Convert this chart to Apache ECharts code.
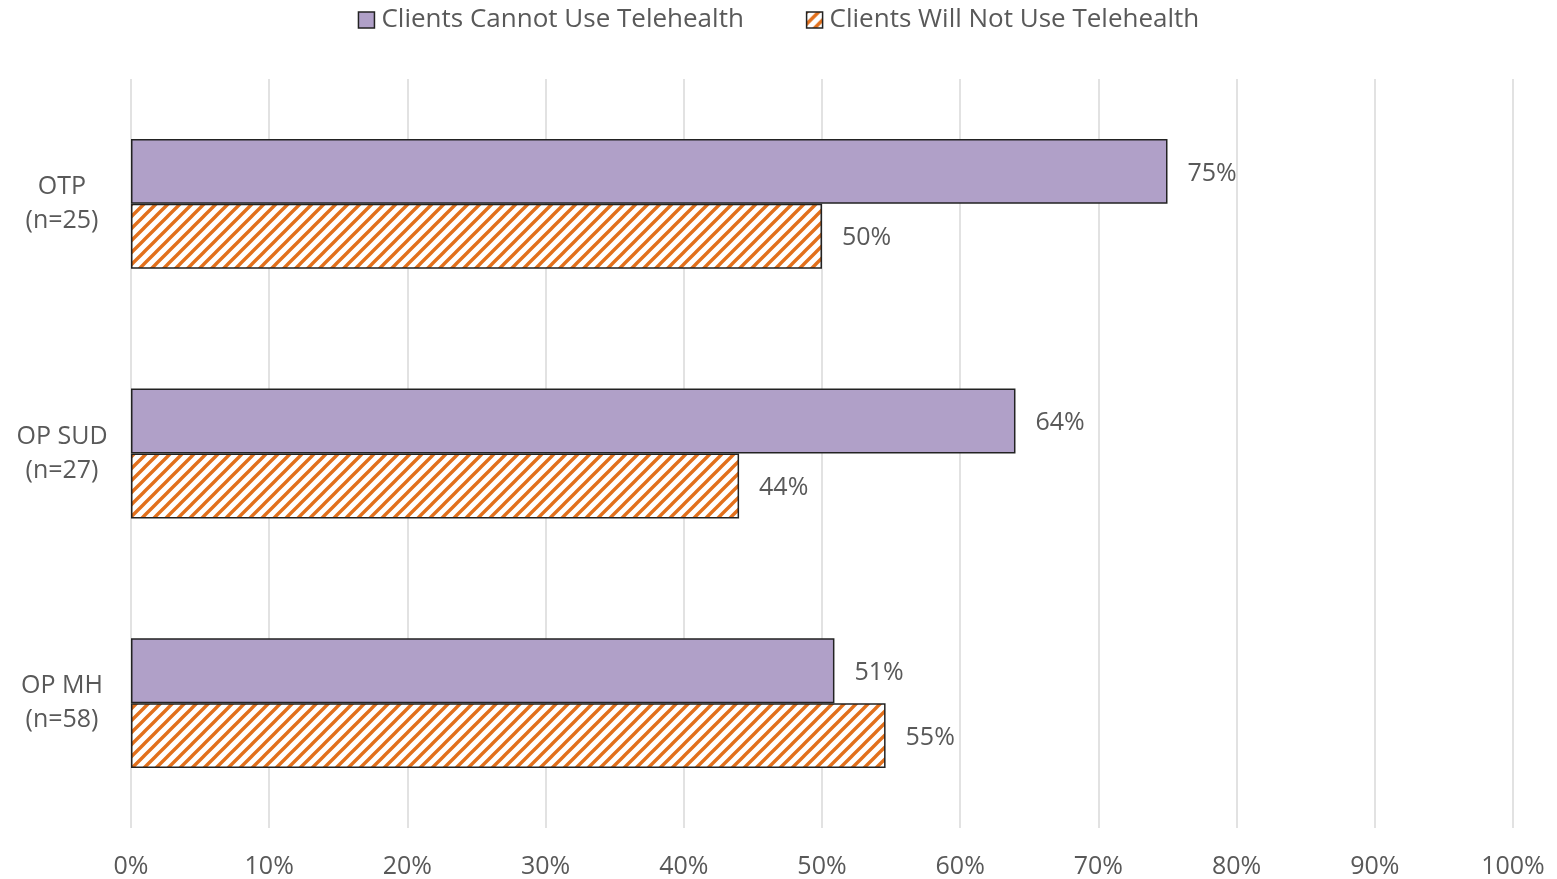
<!DOCTYPE html>
<html><head><meta charset="utf-8">
<script src="https://cdn.jsdelivr.net/npm/echarts@6/dist/echarts.min.js"></script>
<style>html,body{margin:0;padding:0;background:#fff}#c{width:1557px;height:879px}</style>
</head><body><div id="c"></div>
<script>
const categories = ['OTP\n(n=25)', 'OP SUD\n(n=27)', 'OP MH\n(n=58)'];
const seriesNames = ['Clients Cannot Use Telehealth', 'Clients Will Not Use Telehealth'];
const cannotUse = [75, 64, 50.9];
const willNotUse = [50, 44, 54.6];
const xTicks = [0, 10, 20, 30, 40, 50, 60, 70, 80, 90, 100];

function hatch() {
  const s = 12;
  const c = document.createElement('canvas');
  c.width = s; c.height = s;
  const g = c.getContext('2d');
  g.fillStyle = '#ffffff'; g.fillRect(0, 0, s, s);
  g.strokeStyle = '#e2701c'; g.lineWidth = 3.4; g.lineCap = 'square';
  g.beginPath();
  g.moveTo(-2, s + 2); g.lineTo(s + 2, -2);
  g.moveTo(-2, 2); g.lineTo(2, -2);
  g.moveTo(s - 2, s + 2); g.lineTo(s + 2, s - 2);
  g.stroke();
  return c;
}
const pattern = hatch();

const font = '"Open Sans", "Noto Sans", sans-serif';
const txt = '#595959';
const fs = 25;
const chart = echarts.init(document.getElementById('c'), null, {renderer: 'canvas'});
chart.setOption({
  animation: false,
  textStyle: {fontFamily: font},
  legend: {
    top: 2, left: 'center', itemGap: 62, itemWidth: 16, itemHeight: 16, icon: 'rect',
    textStyle: {fontFamily: font, fontSize: 26, color: txt, padding: [0, 0, 0, 2]},
    data: [
      {name: seriesNames[0], itemStyle: {color: '#b0a0c8', borderColor: '#222', borderWidth: 1.5}},
      {name: seriesNames[1], itemStyle: {color: {image: pattern, repeat: 'repeat'}, borderColor: '#222', borderWidth: 1.5}}
    ]
  },
  grid: {left: 131, right: 44, top: 79, bottom: 49, containLabel: false},
  xAxis: {
    type: 'value', min: 0, max: 100, interval: 10,
    axisLine: {show: false}, axisTick: {show: false},
    splitLine: {show: true, lineStyle: {color: '#d9d9d9', width: 1.5}},
    axisLabel: {fontFamily: font, fontSize: fs, color: txt, margin: 26,
      formatter: v => xTicks.includes(v) ? v + '%' : ''}
  },
  yAxis: {
    type: 'category', inverse: true, data: categories,
    axisLine: {show: false}, axisTick: {show: false},
    axisLabel: {fontFamily: font, fontSize: fs, color: txt, margin: 69, lineHeight: 34, align: 'center'}
  },
  series: [
    {
      name: seriesNames[0], type: 'bar', data: cannotUse,
      barGap: '0%', barCategoryGap: '48%',
      itemStyle: {color: '#b0a0c8', borderColor: '#222', borderWidth: 1.5},
      label: {show: true, position: 'right', distance: 20, fontFamily: font, fontSize: fs, color: txt,
        offset: [0, 2], formatter: p => Math.round(p.value) + '%'}
    },
    {
      name: seriesNames[1], type: 'bar', data: willNotUse,
      itemStyle: {color: {image: pattern, repeat: 'repeat'}, borderColor: '#222', borderWidth: 1.5},
      label: {show: true, position: 'right', distance: 20, fontFamily: font, fontSize: fs, color: txt,
        offset: [0, 2], formatter: p => Math.round(p.value) + '%'}
    }
  ]
});
</script></body></html>
